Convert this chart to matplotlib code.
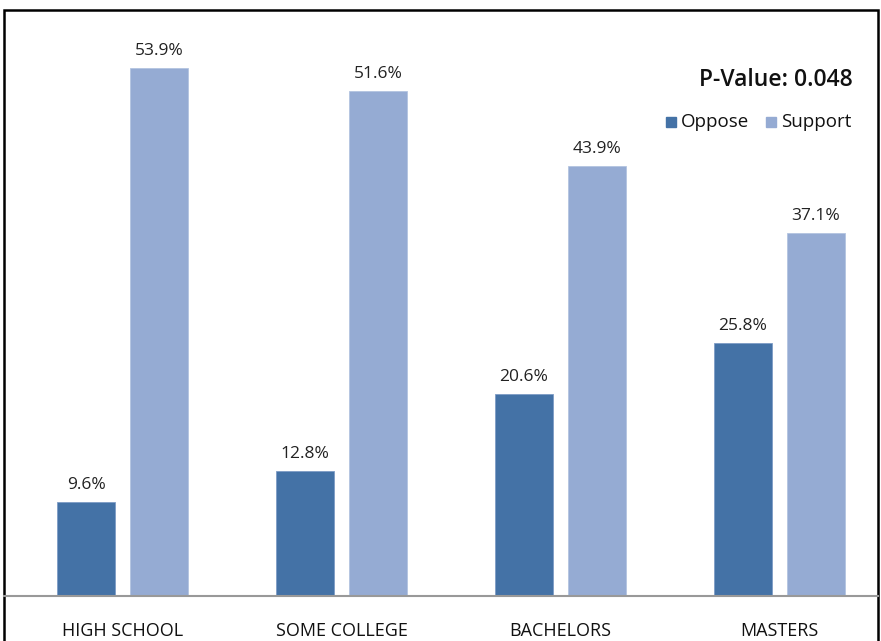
import matplotlib
matplotlib.use("Agg")
import matplotlib.pyplot as plt
from matplotlib.patches import Rectangle
from matplotlib.lines import Line2D
import numpy as np

categories = ["HIGH SCHOOL", "SOME COLLEGE", "BACHELORS", "MASTERS"]
oppose = [9.6, 12.8, 20.6, 25.8]
support = [53.9, 51.6, 43.9, 37.1]
series_names = ["Oppose", "Support"]
p_value_text = "P-Value: 0.048"

W, H = 881, 641
fig = plt.figure(figsize=(W / 100, H / 100), dpi=100)
plt.rcParams['font.family'] = ['Open Sans', 'DejaVu Sans']

c_opp = "#4472A6"
c_sup = "#95ABD3"

ymax = 60
px_per_unit = 528 / 53.9
ax_h_px = ymax * px_per_unit
ax = fig.add_axes([13 / W, (H - 596) / H, 876 / W, ax_h_px / H])
x = np.arange(len(categories))
bw = 0.265
off = (bw + 0.068) / 2
ax.bar(x - off, oppose, bw, color=c_opp, edgecolor="#7E9CC6", linewidth=0.6)
ax.bar(x + off, support, bw, color=c_sup, edgecolor="#B3C4E0", linewidth=0.6)
for xi, v in zip(x - off, oppose):
    ax.text(xi, v + 0.9, f"{v:.1f}%", ha="center", va="bottom", fontsize=12.5, color="#222222")
for xi, v in zip(x + off, support):
    ax.text(xi, v + 0.9, f"{v:.1f}%", ha="center", va="bottom", fontsize=12.5, color="#222222")
ax.set_xlim(-0.5, 3.5)
ax.set_ylim(0, ymax)
ax.set_xticks(x)
ax.set_xticklabels(categories, fontsize=13, color="#111111")
ax.tick_params(axis="x", length=0, pad=19)
ax.set_yticks([])
for s in ax.spines.values():
    s.set_visible(False)
ax.patch.set_alpha(0)

# baseline
fig.add_artist(Line2D([4 / W, 878 / W], [(H - 596) / H] * 2, color="#999999", lw=1.5))
# outer frame
fig.add_artist(Rectangle((4 / W, -0.05), 874 / W, (H - 10) / H + 0.05, fill=False,
                         edgecolor="black", lw=1.8, transform=fig.transFigure))

# P-value and legend
fig.text(853 / W, 1 - 80 / H, p_value_text, ha="right", va="center", fontsize=16.5,
         fontweight="semibold", color="#111111")
ly = 1 - 122 / H
sq = 10
for (xs, name, col) in [(666, series_names[0], c_opp), (766, series_names[1], c_sup)]:
    fig.add_artist(Rectangle((xs / W, ly - (sq / 2) / H), sq / W, sq / H, color=col,
                             transform=fig.transFigure))
    fig.text((xs + 15) / W, ly, name, ha="left", va="center", fontsize=13.5, color="#111111")

fig.savefig("out.png", dpi=100)
